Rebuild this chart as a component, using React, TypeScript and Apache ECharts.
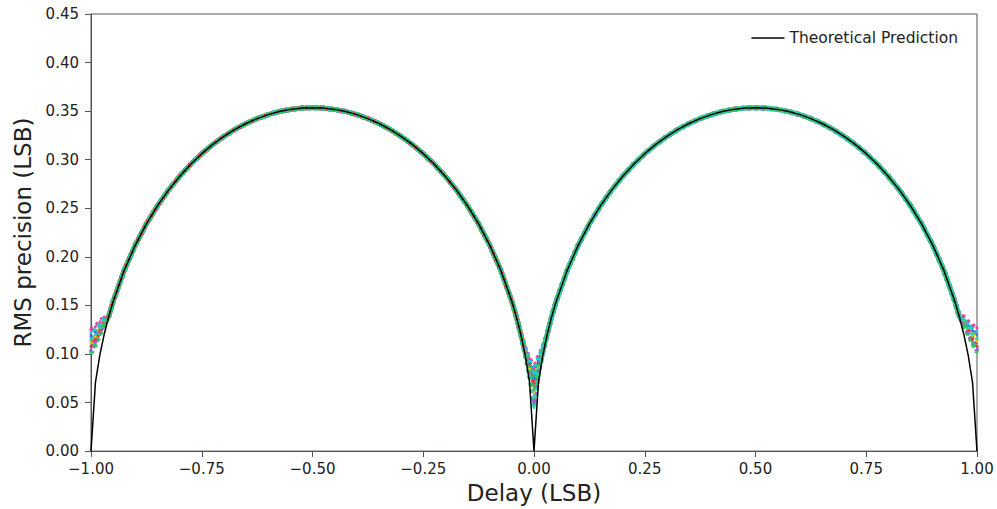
import React, { useEffect, useRef } from "react";
import * as echarts from "echarts";

// Delay grid (LSB)
const delayGrid = [
  -1, -0.99, -0.98, -0.97, -0.96, -0.95, -0.925, -0.9, -0.875, -0.85, -0.825, -0.8, -0.775, -0.75, -0.725, -0.7, -0.675, -0.65, -0.625, -0.6, -0.575, -0.55, -0.525, -0.5,
  -0.475, -0.45, -0.425, -0.4, -0.375, -0.35, -0.325, -0.3, -0.275, -0.25, -0.225, -0.2, -0.175, -0.15, -0.125, -0.1, -0.075, -0.05, -0.04, -0.03, -0.02, -0.01,
  0,
  0.01, 0.02, 0.03, 0.04, 0.05, 0.075, 0.1, 0.125, 0.15, 0.175, 0.2, 0.225, 0.25, 0.275, 0.3, 0.325, 0.35, 0.375, 0.4, 0.425, 0.45, 0.475, 0.5,
  0.525, 0.55, 0.575, 0.6, 0.625, 0.65, 0.675, 0.7, 0.725, 0.75, 0.775, 0.8, 0.825, 0.85, 0.875, 0.9, 0.925, 0.95, 0.96, 0.97, 0.98, 0.99, 1,
];

// Theoretical prediction (RMS precision, LSB)
const theoryValues = [
  0, 0.0704, 0.099, 0.1206, 0.1386, 0.1541, 0.1862, 0.2121, 0.2339, 0.2525, 0.2687, 0.2828, 0.2953, 0.3062, 0.3157, 0.324, 0.3312, 0.3373, 0.3423, 0.3464, 0.3496, 0.3518, 0.3531, 0.3536,
  0.3531, 0.3518, 0.3496, 0.3464, 0.3423, 0.3373, 0.3312, 0.324, 0.3157, 0.3062, 0.2953, 0.2828, 0.2687, 0.2525, 0.2339, 0.2121, 0.1862, 0.1541, 0.1386, 0.1206, 0.099, 0.0704,
  0,
  0.0704, 0.099, 0.1206, 0.1386, 0.1541, 0.1862, 0.2121, 0.2339, 0.2525, 0.2687, 0.2828, 0.2953, 0.3062, 0.3157, 0.324, 0.3312, 0.3373, 0.3423, 0.3464, 0.3496, 0.3518, 0.3531, 0.3536,
  0.3531, 0.3518, 0.3496, 0.3464, 0.3423, 0.3373, 0.3312, 0.324, 0.3157, 0.3062, 0.2953, 0.2828, 0.2687, 0.2525, 0.2339, 0.2121, 0.1862, 0.1541, 0.1386, 0.1206, 0.099, 0.0704, 0,
];

// Measured runs: deviations from the curve near the edges and centre
const measuredLeftX = [-1, -0.99, -0.98, -0.97];
const measuredCentreX = [-0.02, -0.01, 0, 0.01, 0.02];
const measuredRightX = [0.97, 0.98, 0.99, 1];

const measuredLeft = [
  [0.125, 0.128, 0.133, 0.138],
  [0.118, 0.122, 0.128, 0.135],
  [0.112, 0.118, 0.126, 0.133],
  [0.108, 0.115, 0.124, 0.132],
  [0.104, 0.112, 0.122, 0.131],
  [0.122, 0.125, 0.13, 0.136],
  [0.115, 0.12, 0.127, 0.134],
  [0.101, 0.11, 0.12, 0.13],
];
const measuredCentre = [
  [0.105, 0.095, 0.085, 0.097, 0.106],
  [0.104, 0.09, 0.075, 0.092, 0.105],
  [0.103, 0.085, 0.06, 0.087, 0.104],
  [0.102, 0.088, 0.07, 0.09, 0.103],
  [0.101, 0.08, 0.05, 0.082, 0.102],
  [0.105, 0.093, 0.08, 0.095, 0.106],
  [0.1, 0.078, 0.045, 0.08, 0.101],
  [0.102, 0.087, 0.065, 0.088, 0.103],
];
const measuredRight = [
  [0.138, 0.133, 0.129, 0.127],
  [0.135, 0.129, 0.124, 0.12],
  [0.133, 0.126, 0.119, 0.113],
  [0.132, 0.124, 0.115, 0.108],
  [0.131, 0.122, 0.112, 0.104],
  [0.136, 0.131, 0.127, 0.124],
  [0.134, 0.127, 0.121, 0.116],
  [0.13, 0.12, 0.111, 0.102],
];

const measuredColors = ["#e8409a", "#4a6cf0", "#d6c82a", "#e03a3a", "#b050e0", "#20c8d8", "#30d0a0", "#2cc860"];

const fmt = (v: number) => (v < 0 ? "\u2212" + Math.abs(v).toFixed(2) : v.toFixed(2));

export default function App() {
  const ref = useRef<HTMLDivElement>(null);
  useEffect(() => {
    if (!ref.current) return;
    const chart = echarts.init(ref.current, null, { renderer: "svg" });
    const font = "DejaVu Sans";

    const measuredSeries = measuredColors.map((color, i) => {
      const overrides = new Map<number, number>();
      measuredLeftX.forEach((x, k) => overrides.set(x, measuredLeft[i][k]));
      measuredCentreX.forEach((x, k) => overrides.set(x, measuredCentre[i][k]));
      measuredRightX.forEach((x, k) => overrides.set(x, measuredRight[i][k]));
      const data = delayGrid.map((x, k) => [x, overrides.has(x) ? overrides.get(x)! : theoryValues[k]]);
      return {
        name: "run" + i,
        type: "line",
        data,
        symbol: "circle",
        symbolSize: 3,
        showSymbol: true,
        itemStyle: { color },
        lineStyle: { color, width: 5, type: [3, 4], dashOffset: i },
        silent: true,
        z: 2,
      };
    });

    chart.setOption({
      animation: false,
      textStyle: { fontFamily: font },
      grid: { left: 91, right: 20, top: 14, bottom: 55, show: true, borderColor: "#555", borderWidth: 1 },
      legend: {
        data: [{ name: "Theoretical Prediction", icon: "rect" }],
        right: 34,
        top: 25,
        itemWidth: 33,
        itemHeight: 1.6,
        itemGap: 10,
        textStyle: { fontFamily: font, fontSize: 15.5, color: "#222" },
        itemStyle: { color: "#000" },
      },
      xAxis: {
        type: "value",
        min: -1,
        max: 1,
        interval: 0.25,
        name: "Delay (LSB)",
        nameLocation: "middle",
        nameGap: 28,
        nameTextStyle: { fontFamily: font, fontSize: 23, color: "#222" },
        axisLine: { show: true, onZero: false, lineStyle: { color: "#555", width: 1 } },
        axisTick: { show: true, length: 6, lineStyle: { color: "#555" } },
        axisLabel: { fontFamily: font, fontSize: 15, color: "#222", margin: 10, formatter: (v: number) => fmt(v) },
        splitLine: { show: false },
      },
      yAxis: {
        type: "value",
        min: 0,
        max: 0.45,
        interval: 0.05,
        name: "RMS precision (LSB)",
        nameLocation: "middle",
        nameGap: 57,
        nameTextStyle: { fontFamily: font, fontSize: 23, color: "#222" },
        axisLine: { show: true, onZero: false, lineStyle: { color: "#555", width: 1 } },
        axisTick: { show: true, length: 6, lineStyle: { color: "#555" } },
        axisLabel: { fontFamily: font, fontSize: 15, color: "#222", margin: 12, formatter: (v: number) => v.toFixed(2) },
        splitLine: { show: false },
      },
      series: [
        ...measuredSeries,
        {
          name: "Theoretical Prediction",
          type: "line",
          data: delayGrid.map((x, k) => [x, theoryValues[k]]),
          symbol: "none",
          smooth: false,
          itemStyle: { color: "#000" },
          lineStyle: { color: "#000", width: 1.5 },
          z: 5,
        },
      ],
    });
    return () => chart.dispose();
  }, []);
  return <div ref={ref} style={{ position: "fixed", left: 0, top: 0, width: 997, height: 509, background: "#fff" }} />;
}
